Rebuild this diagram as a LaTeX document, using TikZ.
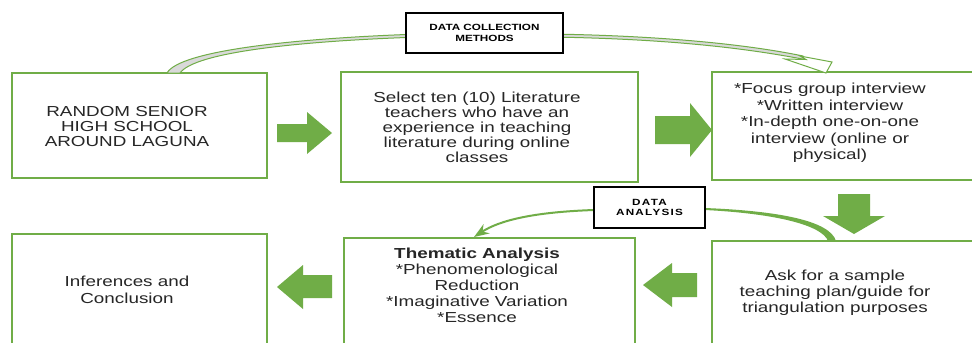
\documentclass[tikz,border=0pt]{standalone}
\usepackage{fontspec}
\setmainfont{Liberation Sans}[FakeStretch=1.3]
\usetikzlibrary{arrows.meta}
\definecolor{grn}{HTML}{70AD47}
\begin{document}
\begin{tikzpicture}[x=1bp,y=-1bp,
  box/.style={draw=grn, line width=1.6bp, inner sep=0pt},
  txt/.style={align=center, inner sep=0pt, text=black!85, font=\fontsize{14.5bp}{#1}\selectfont},
  txt/.default={15bp},
  tag/.style={draw=black, line width=1.5bp, fill=white, inner sep=0pt, align=center,
    font=\bfseries\fontsize{9bp}{10.5bp}\selectfont},
  blockarrow/.style={fill=grn}]
\useasboundingbox (0,0) rectangle (972,342);
\clip (0,0) rectangle (972,342);
\fill[white] (0,0) rectangle (972,342);
% boxes
\node[box, minimum width=255bp, minimum height=105bp] (b1) at (139.5,125.5) {};
\node[box, minimum width=297bp, minimum height=110bp] (b2) at (489.5,127) {};
\node[box, minimum width=268bp, minimum height=108bp] (b3) at (846,126) {};
\node[box, minimum width=255bp, minimum height=116bp] (b4) at (139.5,292) {};
\node[box, minimum width=291bp, minimum height=112bp] (b5) at (489.5,294) {};
\node[box, minimum width=268bp, minimum height=109bp] (b6) at (846,295.5) {};
% block arrows
\fill[blockarrow] (277,124) -- (307,124) -- (307,112) -- (332,133) -- (307,154) -- (307,142) -- (277,142) -- cycle;
\fill[blockarrow] (655,116) -- (690,116) -- (690,103) -- (712,130) -- (690,157) -- (690,144) -- (655,144) -- cycle;
\fill[blockarrow] (838,194) -- (870,194) -- (870,216) -- (885,216) -- (854,234) -- (823,216) -- (838,216) -- cycle;
\fill[blockarrow] (697,273) -- (672,273) -- (672,263) -- (643,285) -- (672,307) -- (672,297) -- (697,297) -- cycle;
\fill[blockarrow] (332,275) -- (303,275) -- (303,265) -- (277,287) -- (303,309) -- (303,298) -- (332,298) -- cycle;
% data collection curved arrow
\filldraw[draw=grn, line width=1bp, fill=gray!30]
  (167,73) .. controls (180,50) and (300,38) .. (420,34) -- (550,34)
  .. controls (680,36) and (760,47) .. (803,56) -- (805,59.5)
  .. controls (755,50) and (680,39) .. (550,37) -- (420,37)
  .. controls (300,41) and (195,52) .. (180,73) -- cycle;
\filldraw[draw=grn, line width=1bp, fill=white]
  (800,56) -- (832,62) -- (826,73) -- (785,59) -- (806,59.5) -- cycle;
% data analysis curves
\draw[grn, line width=2bp, -{Stealth[length=15bp,width=11bp]}]
  (594,210) .. controls (535,212) and (500,220) .. (474,237);
\fill[grn] (705,208) .. controls (780,211) and (830,221) .. (836,241) -- (828,241)
  .. controls (822,225) and (775,213.5) .. (705,210) -- cycle;
% tags
\node[tag, minimum width=157bp, minimum height=40bp] (dc) at (484.5,33) {DATA COLLECTION\\METHODS};
\node[tag, minimum width=111bp, minimum height=41bp] (da) at (649.5,207.5)
  {\addfontfeatures{LetterSpace=14}DATA\\\addfontfeatures{LetterSpace=14}ANALYSIS};
% texts
\node[txt] (t1) at (127,127) {RANDOM SENIOR\\HIGH SCHOOL\\AROUND LAGUNA};
\node[txt] (t2) at (477,127) {Select ten (10) Literature\\teachers who have an\\experience in teaching\\literature during online\\classes};
\node[txt=16.5bp] (t3) at (830,123) {*Focus group interview\\*Written interview\\*In-depth one-on-one\\interview (online or\\physical)};
\node[txt=17bp] (t4) at (127,290) {Inferences and\\Conclusion};
\node[txt=16bp] (t5) at (477,285) {\textbf{Thematic Analysis}\\*Phenomenological\\Reduction\\*Imaginative Variation\\*Essence};
\node[txt=16bp] (t6) at (835,293) {Ask for a sample\\teaching plan/guide for\\triangulation purposes};
\end{tikzpicture}
\end{document}
